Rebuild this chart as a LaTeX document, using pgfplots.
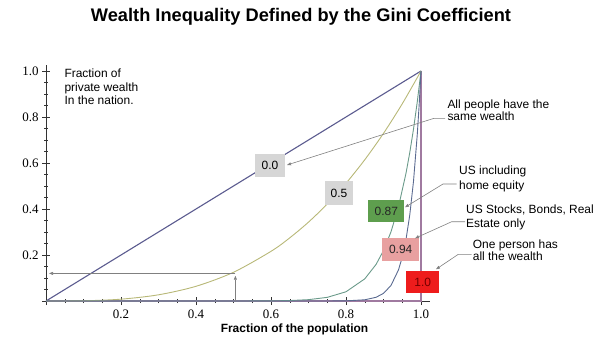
\documentclass[border=0pt]{standalone}
\usepackage{fontspec}
\setmainfont{Liberation Sans}
\newfontfamily\tickfont{Liberation Serif}
\usepackage{pgfplots}
\pgfplotsset{compat=1.18}
\usetikzlibrary{arrows.meta}
\definecolor{eqline}{HTML}{5B5B8F}
\definecolor{ghalf}{HTML}{B8B878}
\definecolor{geq}{HTML}{6A9A8A}
\definecolor{gstock}{HTML}{5A6A90}
\definecolor{gone}{HTML}{A07AA0}
\definecolor{boxgray}{HTML}{D6D6D6}
\definecolor{boxgreen}{HTML}{5E9E4E}
\definecolor{boxpink}{HTML}{E8A0A0}
\definecolor{boxred}{HTML}{EE1C1C}
\definecolor{arrgray}{HTML}{808080}
\begin{document}
\begin{tikzpicture}[x=1bp,y=1bp]
\path[use as bounding box] (0,0) rectangle (602,-340);
\begin{axis}[
  at={(46bp,-301bp)}, anchor=south west,
  scale only axis, width=384bp, height=236bp,
  xmin=0, xmax=1.024, ymin=0, ymax=1.026,
  axis lines=left, axis line style={-, black!80, line width=0.6bp},
  clip=false,
  xtick={0,0.2,0.4,0.6,0.8,1.0}, xticklabels={,0.2,0.4,0.6,0.8,1.0},
  ytick={0,0.2,0.4,0.6,0.8,1.0}, yticklabels={,0.2,0.4,0.6,0.8,1.0},
  minor tick num=3,
  tick align=center, major tick length=8bp, minor tick length=4bp,
  tick style={black!80, line width=0.5bp},
  ticklabel style={font=\tickfont\fontsize{13}{15}\selectfont},
  xticklabel style={yshift=-1bp},
]
\addplot[gone, line width=1.6bp] coordinates {(0,0) (1,0) (1,1)};
\addplot[eqline, line width=1.1bp] coordinates {(0,0) (1,1)};
\addplot[ghalf, line width=0.9bp, smooth] coordinates {(0,0) (0.1,0.001) (0.2,0.008) (0.3,0.027) (0.4,0.064) (0.5,0.125) (0.6,0.216) (0.65,0.2746) (0.7,0.343) (0.75,0.4219) (0.8,0.512) (0.85,0.6141) (0.9,0.729) (0.95,0.8574) (1,1)};
\addplot[geq, line width=0.9bp] coordinates {(0,0) (0.5,0.00005) (0.6,0.0006) (0.65,0.002) (0.7,0.0059) (0.75,0.0159) (0.8,0.0402) (0.85,0.0963) (0.88,0.1587) (0.9,0.2193) (0.92,0.3010) (0.94,0.4102) (0.96,0.5555) (0.97,0.6449) (0.98,0.7476) (0.99,0.8653) (1,1)};
\addplot[gstock, line width=0.9bp] coordinates {(0,0) (0.7,0.00001) (0.75,0.0001) (0.8,0.0007) (0.85,0.0053) (0.88,0.0161) (0.9,0.0333) (0.92,0.0677) (0.94,0.1355) (0.95,0.1908) (0.96,0.2675) (0.97,0.3739) (0.98,0.5207) (0.99,0.7228) (0.995,0.8505) (1,1)};
\draw[arrgray, line width=0.6bp, -{Triangle[length=4bp,width=3bp]}] (axis cs:0.505,0.12) -- (axis cs:0.008,0.12);
\draw[arrgray, line width=0.6bp, -{Triangle[length=4bp,width=3bp]}] (axis cs:0.505,0) -- (axis cs:0.505,0.11);
\end{axis}
% title and labels
\node[font=\bfseries\fontsize{18.3}{20}\selectfont, anchor=base] at (301,-21.7) {Wealth Inequality Defined by the Gini Coefficient};
\node[font=\bfseries\fontsize{12}{14}\selectfont, anchor=base] at (294.5,-332.5) {Fraction of the population};
\node[font=\fontsize{12}{13.7}\selectfont, anchor=north west, align=left, inner sep=0] at (64.3,-68.5) {Fraction of\\private wealth\\In the nation.};
% value boxes
\node[fill=boxgray, minimum width=30bp, minimum height=23bp, inner sep=0, font=\fontsize{12}{14}\selectfont] at (270,-165.7) {0.0};
\node[fill=boxgray, minimum width=28bp, minimum height=24bp, inner sep=0, font=\fontsize{12}{14}\selectfont] at (339,-193) {0.5};
\node[fill=boxgreen, minimum width=36bp, minimum height=22bp, inner sep=0, font=\fontsize{12}{14}\selectfont, text=black!85] at (386.3,-211.2) {0.87};
\node[fill=boxpink, minimum width=37bp, minimum height=23bp, inner sep=0, font=\fontsize{12}{14}\selectfont, text=black!85] at (400.7,-249.7) {0.94};
\node[fill=boxred, minimum width=33bp, minimum height=22bp, inner sep=0, font=\fontsize{12}{14}\selectfont, text=red!45!black] at (422.7,-282.2) {1.0};
% callout texts
\node[font=\fontsize{12}{12.7}\selectfont, anchor=base west, align=left, inner sep=0] at (447.3,-120.7) {All people have the\\same wealth};
\node[font=\fontsize{12}{14.3}\selectfont, anchor=base west, align=left, inner sep=0] at (459,-189) {US including\\home equity};
\node[font=\fontsize{12}{13.7}\selectfont, anchor=base west, align=left, inner sep=0] at (466,-227.3) {US Stocks, Bonds, Real\\Estate only};
\node[font=\fontsize{12}{12.6}\selectfont, anchor=base west, align=left, inner sep=0] at (472.7,-260.7) {One person has\\all the wealth};
% callout arrows
\draw[arrgray, line width=0.6bp, -{Triangle[length=4bp,width=3bp]}] (445,-118.3) -- (434,-118.3) -- (287,-165);
\draw[arrgray, line width=0.6bp, -{Triangle[length=4bp,width=3bp]}] (456.7,-184) -- (443,-184) -- (405,-207.3);
\draw[arrgray, line width=0.6bp, -{Triangle[length=4bp,width=3bp]}] (465,-221.7) -- (451.7,-221.7) -- (415,-238.3);
\draw[arrgray, line width=0.6bp, -{Triangle[length=4bp,width=3bp]}] (471.7,-254.3) -- (458.3,-254.3) -- (436,-269.3);
\end{tikzpicture}
\end{document}
